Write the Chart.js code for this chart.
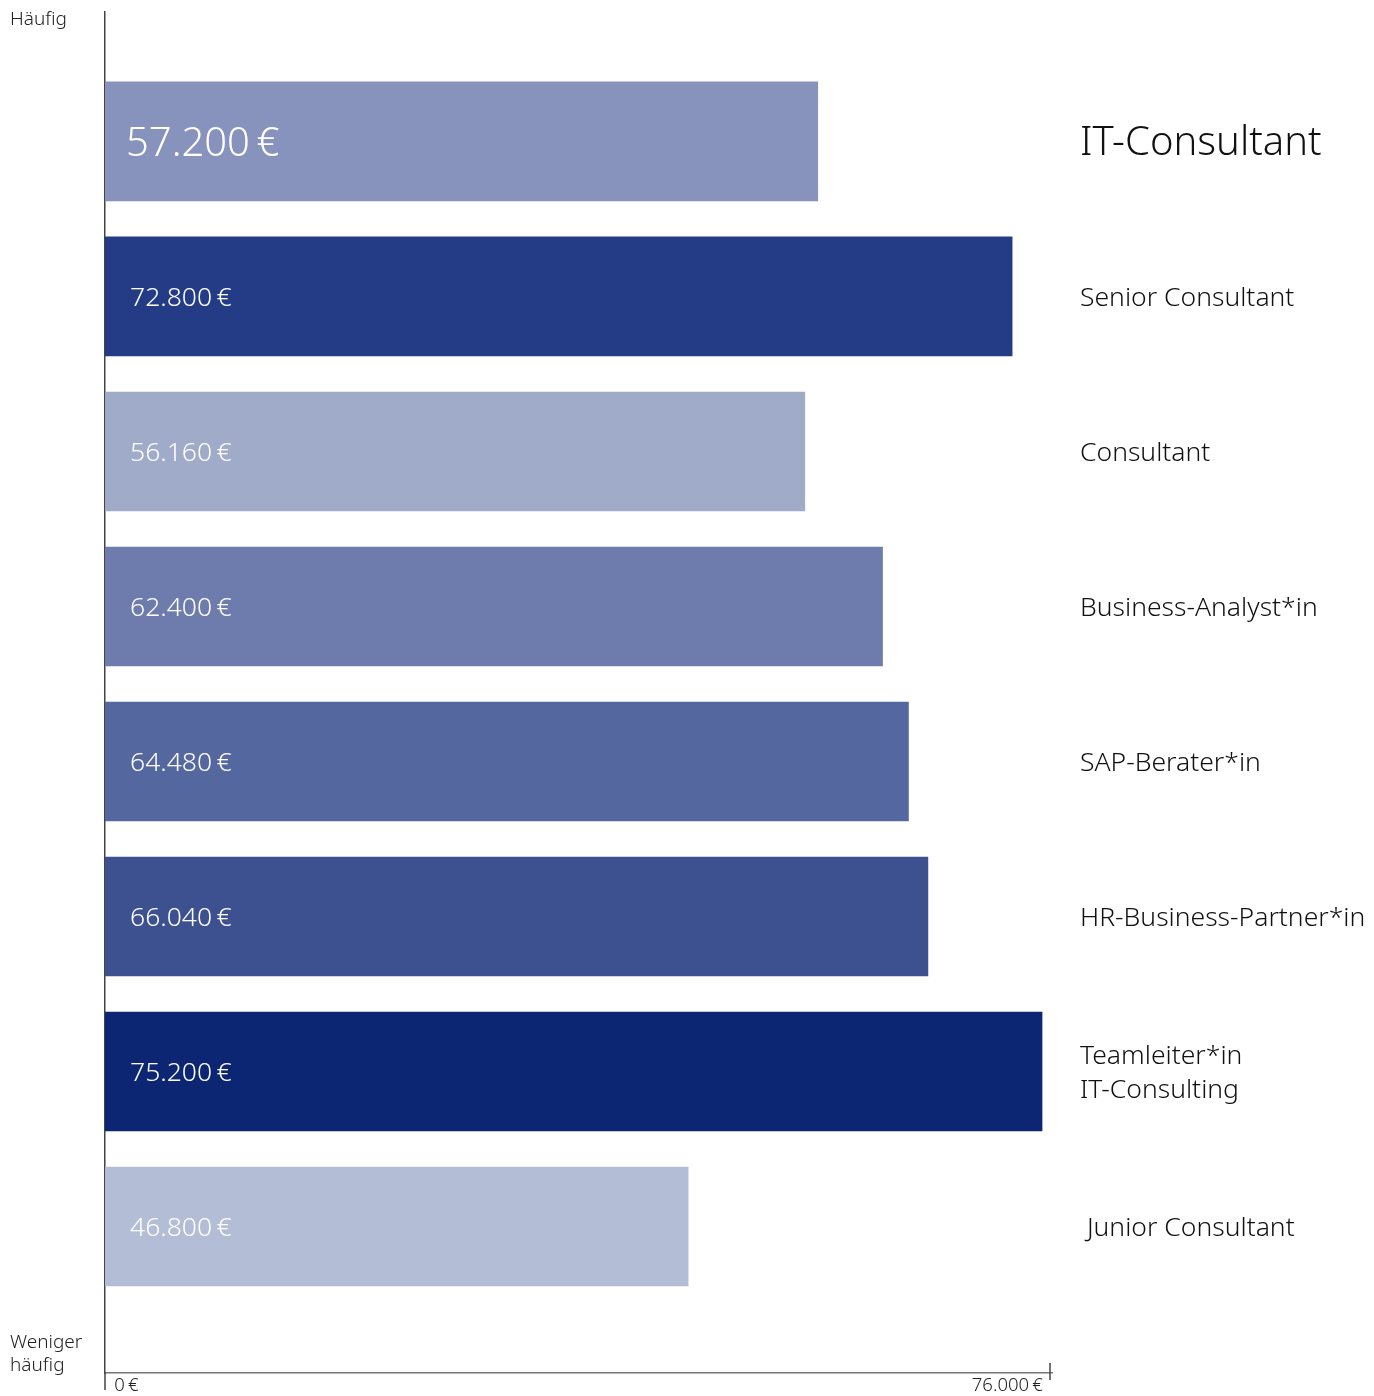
<!DOCTYPE html>
<html>
<head>
<meta charset="utf-8">
<script src="https://cdn.jsdelivr.net/npm/chart.js@4.4.1/dist/chart.umd.min.js"></script>
<style>
  html, body { margin: 0; padding: 0; background: #fff; }
  #wrap { width: 1374px; height: 1396px; }
</style>
</head>
<body>
<div id="wrap"><canvas id="myChart"></canvas></div>
<script>
// Daten
const jobs = ['IT-Consultant', 'Senior Consultant', 'Consultant', 'Business-Analyst*in',
  'SAP-Berater*in', 'HR-Business-Partner*in', ['Teamleiter*in', 'IT-Consulting'], ' Junior Consultant'];
const salaries = [57200, 72800, 56160, 62400, 64480, 66040, 75200, 46800];
const barColors = ['#8893bd', '#243c85', '#a0abca', '#6e7cad', '#55679f', '#3d5191', '#0c2674', '#b4bdd6'];
const xTicks = [0, 76000];
const xTickLabels = ['\u20020\u202F€', '76.000\u202F€\u2002'];

const font = '"Noto Sans", "Open Sans", sans-serif';
const euro = v => v.toLocaleString('de-DE') + '\u202F€';

const yMin = -0.835, yMax = 7.945;
const labelShift = 0.015; // Beschriftung rechts minimal tiefer

const barLabels = {
  id: 'barLabels',
  afterDatasetsDraw(chart) {
    const c = chart.ctx;
    const meta = chart.getDatasetMeta(0);
    c.save();
    c.fillStyle = '#fff';
    c.textBaseline = 'middle';
    meta.data.forEach((bar, i) => {
      const big = i === 0;
      c.font = '300 ' + (big ? '40px ' : '26.5px ') + font;
      c.fillText(euro(salaries[i]), bar.base + (big ? 21 : 25), bar.y + (big ? 3 : 2));
    });
    c.restore();
  }
};

const extras = {
  id: 'extras',
  afterDraw(chart) {
    const c = chart.ctx;
    const a = chart.chartArea;
    const x = chart.scales.x;
    c.save();
    // Achsenverlängerung und Tick
    c.strokeStyle = '#444';
    c.lineWidth = 1.5;
    c.beginPath();
    c.moveTo(a.left, a.bottom);
    c.lineTo(a.left, a.bottom + 17);
    c.stroke();
    const xr = x.getPixelForValue(xTicks[1]) - 2;
    c.beginPath();
    c.moveTo(xr, a.bottom - 10);
    c.lineTo(xr, a.bottom + 7);
    c.stroke();
    // Häufigkeit
    c.fillStyle = '#222';
    c.font = '300 19px ' + font;
    c.textBaseline = 'middle';
    c.fillText('Häufig', 10, 20);
    c.fillText('Weniger', 10, 1343);
    c.fillText('häufig', 10, 1366);
    c.restore();
  }
};

const noPad = s => { s.paddingTop = 0; s.paddingBottom = 0; s.paddingLeft = 0; s.paddingRight = 0; };

const ctx = document.querySelector('#myChart').getContext('2d');

const myChart = new Chart(ctx, {
  type: 'bar',
  data: {
    datasets: [{
      data: salaries.map((v, i) => ({ x: v, y: i })),
      backgroundColor: barColors,
      barThickness: 119,
      borderWidth: 0
    }]
  },
  options: {
    indexAxis: 'y',
    responsive: true,
    maintainAspectRatio: false,
    animation: false,
    layout: { padding: { left: 105, top: 12, right: 0, bottom: 0 } },
    plugins: { legend: { display: false }, tooltip: { enabled: false } },
    scales: {
      x: {
        type: 'linear',
        min: 0,
        max: 76000,
        afterBuildTicks: s => { s.ticks = xTicks.map(v => ({ value: v })); },
        afterFit: s => { s.height = 23; noPad(s); },
        grid: { display: false, drawTicks: false },
        border: { display: true, color: '#777', width: 1.5 },
        ticks: {
          align: 'inner',
          padding: 2,
          color: '#222',
          font: { family: font, size: 18.5, weight: 300 },
          callback: (v, i) => xTickLabels[i]
        }
      },
      y: {
        type: 'linear',
        position: 'left',
        reverse: true,
        offset: false,
        min: yMin,
        max: yMax,
        afterFit: s => { s.width = 0; noPad(s); },
        grid: { display: false, drawTicks: false },
        border: { display: true, color: '#444', width: 1.5 },
        ticks: { display: false }
      },
      y2: {
        type: 'linear',
        position: 'right',
        reverse: true,
        offset: false,
        min: yMin - labelShift,
        max: yMax - labelShift,
        afterBuildTicks: s => { s.ticks = jobs.map((_, i) => ({ value: i })); },
        afterFit: s => { s.width = 1374 - 1052; noPad(s); },
        grid: { display: false, drawTicks: false },
        border: { display: false },
        ticks: {
          padding: 28,
          color: '#111',
          font: c => ({ family: font, size: c.index === 0 ? 40 : 26.5, weight: 300, lineHeight: 1.28 }),
          callback: (v) => jobs[v]
        }
      }
    }
  },
  plugins: [barLabels, extras]
});
</script>
</body>
</html>
